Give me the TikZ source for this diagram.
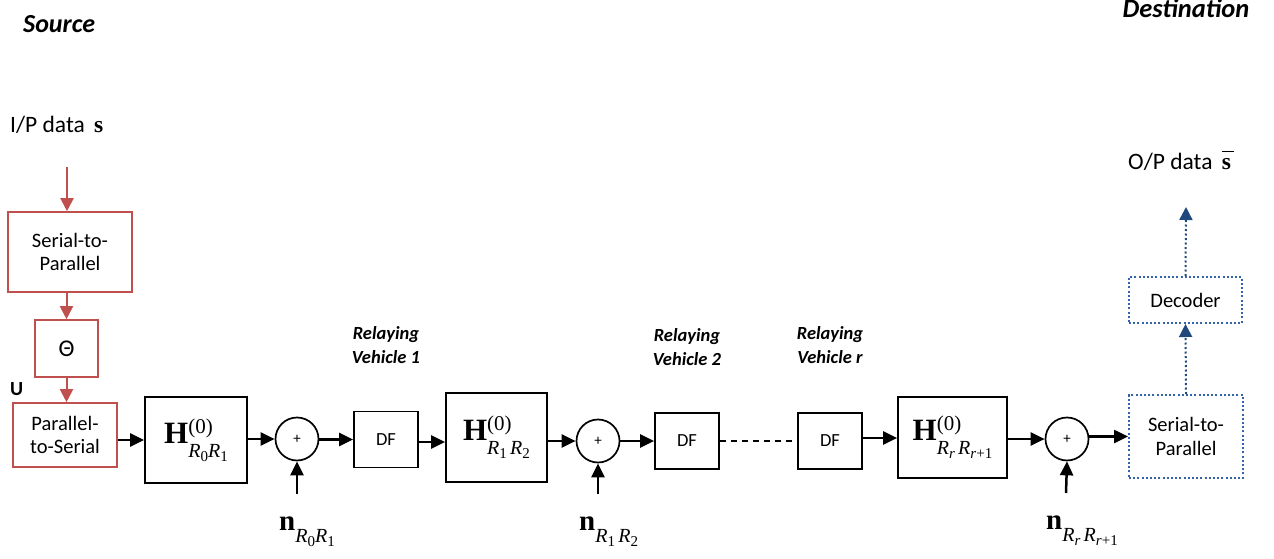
\documentclass[tikz,border=0pt]{standalone}
\usepackage{fontspec}
\setmainfont{Carlito}
\newfontfamily\tms{Liberation Serif}
\usetikzlibrary{arrows.meta,calc}

\definecolor{srcred}{HTML}{C0504D}
\definecolor{dstblue}{RGB}{52,100,168}
\definecolor{dstnavy}{RGB}{31,73,125}

% font size helper
\newcommand\fs[1]{\fontsize{#1}{#1}\selectfont}
% lowered index inside a subscript
\newcommand\lo[1]{\raisebox{-4pt}{\fs{15}#1}}
% channel matrix H^{(0)}_{ab}
\newcommand\chan[1]{{\tms\fs{31}\bfseries H}%
  \rlap{\raisebox{10pt}{\tms\fs{21}(0)}}%
  \raisebox{-14pt}{\tms\fs{20}#1}}
% noise vector n_{ab}
\newcommand\noise[1]{{\tms\fs{29}\bfseries n}\raisebox{-12pt}{\tms\fs{20}#1}}
% bold s with a bar
\newcommand\sbar{{\tms\bfseries\makebox[0pt][l]{\raisebox{17pt}{\rule{12pt}{1.4pt}}}s}}

\begin{document}
\begin{tikzpicture}[x=1pt,y=-1pt,
  redbox/.style={draw=srcred,line width=1.6pt,align=center,inner sep=0pt,font=\fs{20.5}},
  blkbox/.style={draw=black,line width=1.7pt,align=center,inner sep=0pt},
  dfbox/.style={blkbox,minimum width=64pt,minimum height=56pt,font=\fs{18.5}},
  sumnode/.style={circle,draw=black,line width=1.7pt,minimum size=43pt,inner sep=0pt,font=\fs{15}},
  dotbox/.style={draw=dstblue,line width=2pt,dash pattern=on 2pt off 2.2pt,align=center,inner sep=0pt,font=\fs{20.5}},
  redarr/.style={draw=srcred,line width=2pt,-{Triangle[length=13pt,width=13pt]}},
  arr/.style={draw=black,line width=2.5pt,-{Triangle[length=14pt,width=13pt]}},
  dotarr/.style={draw=dstnavy,line width=2pt,dash pattern=on 2pt off 2.5pt,-{Triangle[length=13pt,width=13pt,color=dstnavy]}},
  relay/.style={font=\fs{18.5}\bfseries\itshape,align=center,inner sep=0pt}
]
\useasboundingbox (0,0) rectangle (1274,559);

% titles
\node[anchor=base west,font=\fs{26}\bfseries\itshape,inner sep=0pt] (src) at (23,33) {Source};
\node[anchor=base,font=\fs{26.5}\bfseries\itshape,inner sep=0pt] (dst) at (1186,18) {Destination};

% source chain
\node[anchor=base west,inner sep=0pt,font=\fs{23.5}] (ip) at (10,132) {I/P data\, {\tms\bfseries s}};
\coordinate (inp) at (67,167);
\node[redbox,minimum width=124pt,minimum height=80pt] (s2p) at (70,252) {Serial-to-\\[3pt]Parallel};
\node[redbox,minimum width=63pt,minimum height=57pt,font=\fs{24}] (theta) at (66.5,348.5) {Θ};
\node[redbox,minimum width=104pt,minimum height=64pt] (p2s) at (65,435) {Parallel-\\[3pt]to-Serial};
\node[anchor=base west,inner sep=0pt,font=\fs{20}\bfseries] (U) at (10,395) {U};

\draw[redarr] (inp) -- (inp |- s2p.north);
\draw[redarr] (theta.north |- s2p.south) -- (theta.north);
\draw[redarr] (theta.south) -- (theta.south |- p2s.north);

% relay chain
\node[blkbox,minimum width=102pt,minimum height=86pt] (H1) at (196,440)
  {\chan{\textit{R}\lo{0}\textit{R}\lo{1}}};
\node[sumnode] (c1) at (297,439) {+};
\node[dfbox] (df1) at (386,439.5) {DF};
\node[blkbox,minimum width=101pt,minimum height=89pt] (H2) at (496.5,437.5)
  {\chan{\textit{R}\lo{1}\,\textit{R}\lo{2}}};
\node[sumnode] (c2) at (598,441) {+};
\node[dfbox] (df2) at (687,441) {DF};
\node[dfbox] (df3) at (830,441) {DF};
\node[blkbox,minimum width=109pt,minimum height=81pt] (H3) at (952.5,437.5)
  {\chan{\textit{R}\lo{\itshape r}\,\textit{R}\lo{\textit{r}+1}}};
\node[sumnode] (c3) at (1067,439) {+};

\draw[arr] (p2s.east |- H1.west) -- (H1.west);
\draw[arr] (H1.east |- c1.west) -- (c1.west);
\draw[arr] (c1.east |- df1.west) -- (df1.west);
\draw[arr] (df1.east |- 0,442) -- (H2.west |- 0,442);
\draw[arr] (H2.east |- c2.west) -- (c2.west);
\draw[arr] (c2.east |- df2.west) -- (df2.west);
\draw[line width=1.8pt,dash pattern=on 6pt off 5pt] (df2.east) -- (df3.west);
\draw[arr] (df3.east |- 0,438) -- (H3.west |- 0,438);
\draw[arr] (H3.east |- c3.west) -- (c3.west);

% relay labels
\node[relay] (rv1) at (386,345) {Relaying\\[6pt]Vehicle 1};
\node[relay] (rv2) at (687,347) {Relaying\\[6pt]Vehicle 2};
\node[relay] (rvr) at (830,345) {Relaying\\[6pt]Vehicle r};

% noise inputs
\coordinate (nz1) at (297,494);
\coordinate (nz2) at (598,494);
\coordinate (nz3) at (1066,493);
\draw[arr] (nz1) -- (c1.south);
\draw[arr] (nz2) -- (c2.south);
\draw[arr] (nz3) -- (c3.south);
\node[anchor=base west,inner sep=0pt] (n1) at (279,530) {\noise{\textit{R}\lo{0}\textit{R}\lo{1}}};
\node[anchor=base west,inner sep=0pt] (n2) at (579,530) {\noise{\textit{R}\lo{1}\,\textit{R}\lo{2}}};
\node[anchor=base west,inner sep=0pt] (n3) at (1046,529) {\noise{\textit{R}\lo{\itshape r}\,\textit{R}\lo{\textit{r}+1}}};

% destination chain
\node[dotbox,minimum width=114pt,minimum height=83pt] (ds2p) at (1186,436.5) {Serial-to-\\[3pt]Parallel};
\node[dotbox,minimum width=113pt,minimum height=46pt] (dec) at (1185.5,300) {Decoder};
\coordinate (outp) at (1186,207);
\node[anchor=base west,inner sep=0pt,font=\fs{23.5}] (op) at (1128,169) {O/P data\, \sbar};

\draw[arr] (c3.east |- ds2p.west) -- (ds2p.west);
\draw[dotarr] (ds2p.north) -- (dec.south);
\draw[dotarr] (dec.north) -- (outp);
\end{tikzpicture}
\end{document}
